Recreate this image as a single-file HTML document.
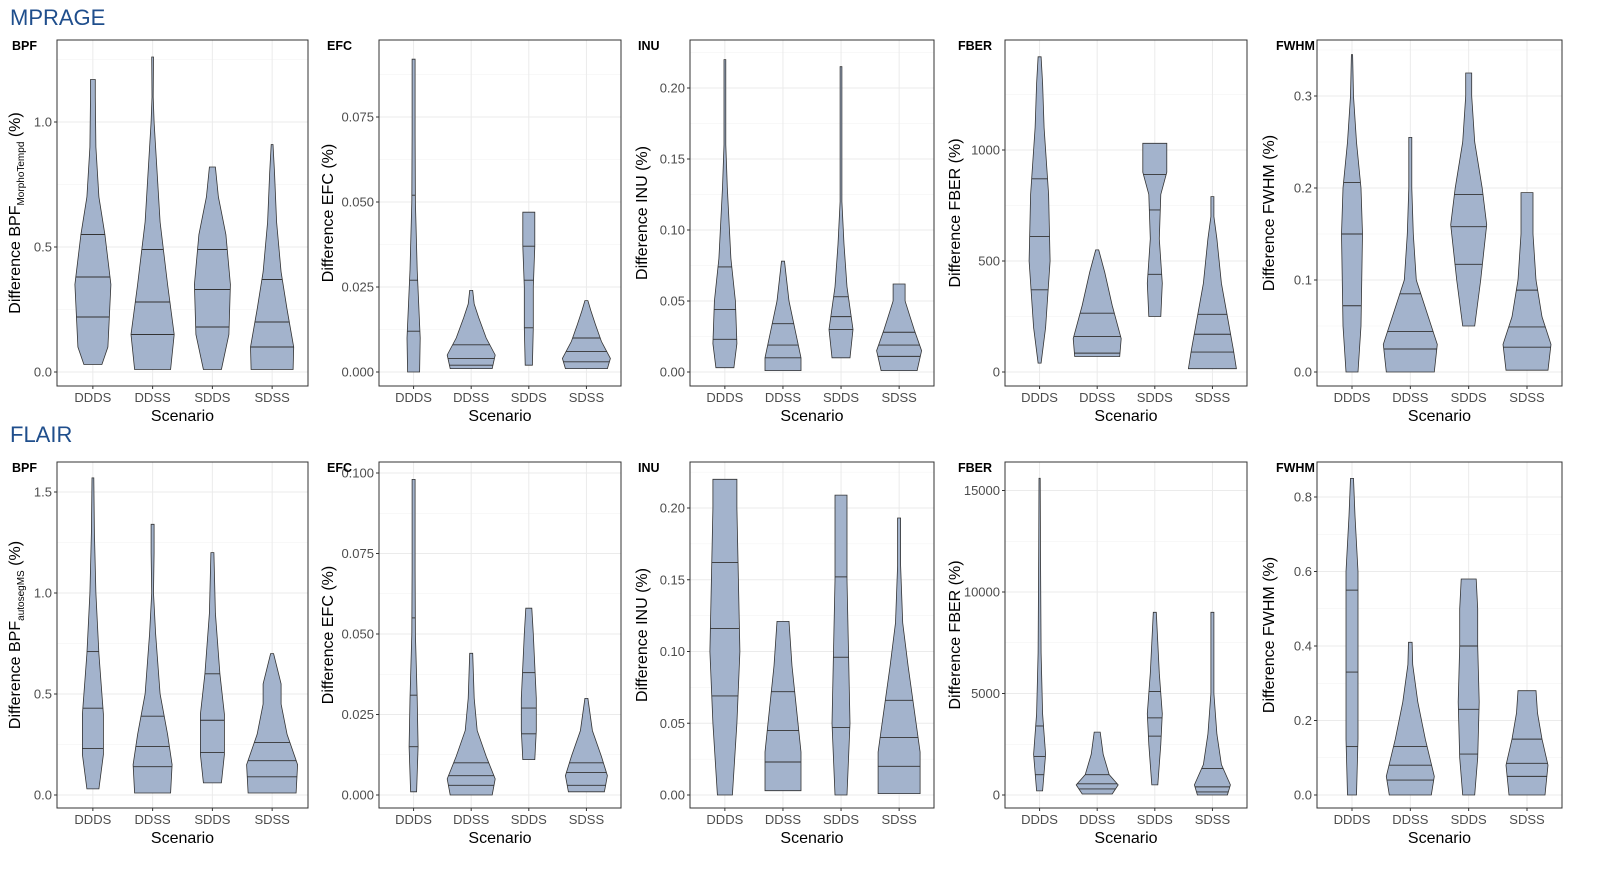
<!DOCTYPE html>
<html><head><meta charset="utf-8"><style>
body{margin:0;background:#fff;}
svg{display:block;font-family:"Liberation Sans",Arial,sans-serif;}
</style></head><body>
<svg id="chart" width="1600" height="869" viewBox="0 0 1600 869" xmlns="http://www.w3.org/2000/svg">
<rect width="1600" height="869" fill="#fff"/>
<text x="10" y="25" font-size="22" fill="#1f4e8c">MPRAGE</text>
<text x="10" y="442" font-size="22" fill="#1f4e8c">FLAIR</text>
</svg>
<script>
const categories = ["DDDS","DDSS","SDDS","SDSS"];
// violin shapes: [value, density] (density 1 = 30px half-width), per category
const mpBpfShapes = [
 [[0.03,0.3],[0.1,0.5],[0.35,0.6],[0.55,0.4],[0.7,0.2],[0.9,0.1],[1.1,0.08],[1.17,0.08]],
 [[0.01,0.6],[0.15,0.72],[0.35,0.5],[0.6,0.25],[0.9,0.1],[1.0,0.05],[1.1,0.02],[1.26,0.03]],
 [[0.01,0.3],[0.15,0.55],[0.35,0.6],[0.55,0.45],[0.7,0.2],[0.82,0.1]],
 [[0.01,0.7],[0.1,0.72],[0.25,0.5],[0.4,0.3],[0.6,0.15],[0.8,0.08],[0.91,0.03]]];
const mpBpfQuantiles = [[0.22,0.38,0.55],[0.15,0.28,0.49],[0.18,0.33,0.49],[0.1,0.2,0.37]];
const mpEfcShapes = [
 [[0,0.2],[0.01,0.22],[0.03,0.12],[0.05,0.06],[0.07,0.05],[0.092,0.05]],
 [[0.001,0.7],[0.005,0.8],[0.01,0.5],[0.016,0.25],[0.02,0.1],[0.024,0.05]],
 [[0.002,0.12],[0.013,0.15],[0.025,0.15],[0.037,0.2],[0.047,0.2]],
 [[0.001,0.7],[0.004,0.8],[0.009,0.5],[0.014,0.3],[0.018,0.15],[0.021,0.05]]];
const mpEfcQuantiles = [[0.012,0.027,0.052],[0.002,0.004,0.008],[0.013,0.027,0.037],[0.003,0.006,0.01]];
const mpInuShapes = [
 [[0.003,0.3],[0.02,0.4],[0.05,0.35],[0.08,0.2],[0.13,0.08],[0.16,0.03],[0.22,0.03]],
 [[0.001,0.6],[0.01,0.6],[0.03,0.4],[0.05,0.2],[0.078,0.05]],
 [[0.01,0.3],[0.03,0.4],[0.06,0.2],[0.09,0.1],[0.12,0.03],[0.17,0.03],[0.215,0.03]],
 [[0.001,0.6],[0.015,0.75],[0.03,0.5],[0.04,0.35],[0.05,0.2],[0.062,0.2]]];
const mpInuQuantiles = [[0.023,0.044,0.074],[0.01,0.019,0.034],[0.03,0.039,0.053],[0.011,0.019,0.028]];
const mpFberShapes = [
 [[40,0.05],[200,0.2],[500,0.35],[800,0.3],[1100,0.15],[1300,0.1],[1420,0.05]],
 [[70,0.75],[150,0.8],[300,0.5],[450,0.25],[550,0.05]],
 [[250,0.2],[400,0.25],[600,0.15],[800,0.2],[900,0.4],[1030,0.4]],
 [[15,0.8],[100,0.7],[250,0.5],[400,0.3],[600,0.15],[700,0.05],[790,0.05]]];
const mpFberQuantiles = [[370,610,870],[85,160,265],[440,730,890],[90,170,260]];
const mpFwhmShapes = [
 [[0,0.2],[0.05,0.3],[0.15,0.35],[0.2,0.3],[0.25,0.15],[0.3,0.05],[0.345,0.02]],
 [[0,0.8],[0.03,0.9],[0.07,0.5],[0.1,0.2],[0.15,0.1],[0.2,0.05],[0.255,0.05]],
 [[0.05,0.2],[0.1,0.4],[0.16,0.6],[0.2,0.45],[0.25,0.2],[0.3,0.1],[0.325,0.1]],
 [[0.002,0.7],[0.03,0.8],[0.06,0.5],[0.1,0.3],[0.15,0.2],[0.195,0.2]]];
const mpFwhmQuantiles = [[0.072,0.15,0.206],[0.025,0.044,0.085],[0.117,0.158,0.193],[0.027,0.049,0.089]];
const flBpfShapes = [
 [[0.03,0.2],[0.2,0.35],[0.4,0.35],[0.7,0.2],[1.0,0.1],[1.3,0.05],[1.57,0.03]],
 [[0.01,0.6],[0.15,0.65],[0.3,0.5],[0.5,0.25],[0.8,0.1],[1.0,0.03],[1.2,0.05],[1.34,0.05]],
 [[0.06,0.3],[0.2,0.4],[0.4,0.4],[0.6,0.25],[0.9,0.1],[1.2,0.05]],
 [[0.01,0.8],[0.15,0.85],[0.3,0.5],[0.45,0.3],[0.55,0.3],[0.7,0.05]]];
const flBpfQuantiles = [[0.23,0.43,0.71],[0.14,0.24,0.39],[0.21,0.37,0.6],[0.09,0.17,0.26]];
const flEfcShapes = [
 [[0.001,0.1],[0.015,0.15],[0.03,0.12],[0.05,0.06],[0.07,0.05],[0.098,0.05]],
 [[0,0.7],[0.005,0.8],[0.012,0.5],[0.02,0.2],[0.03,0.1],[0.044,0.05]],
 [[0.011,0.2],[0.02,0.25],[0.03,0.25],[0.04,0.2],[0.05,0.15],[0.058,0.1]],
 [[0.001,0.6],[0.006,0.7],[0.012,0.5],[0.02,0.2],[0.03,0.05]]];
const flEfcQuantiles = [[0.015,0.031,0.055],[0.003,0.006,0.01],[0.019,0.027,0.038],[0.003,0.007,0.01]];
const flInuShapes = [
 [[0,0.25],[0.05,0.4],[0.1,0.5],[0.15,0.45],[0.2,0.4],[0.22,0.4]],
 [[0.003,0.6],[0.03,0.6],[0.06,0.45],[0.09,0.3],[0.121,0.2]],
 [[0,0.2],[0.05,0.3],[0.1,0.25],[0.15,0.2],[0.209,0.2]],
 [[0.001,0.7],[0.03,0.7],[0.06,0.5],[0.09,0.3],[0.12,0.12],[0.16,0.05],[0.193,0.05]]];
const flInuQuantiles = [[0.069,0.116,0.162],[0.023,0.045,0.072],[0.047,0.096,0.152],[0.02,0.04,0.066]];
const flFberShapes = [
 [[200,0.1],[2000,0.2],[4000,0.1],[7000,0.05],[12000,0.03],[15600,0.02]],
 [[50,0.5],[500,0.7],[1000,0.4],[2000,0.2],[3100,0.1]],
 [[500,0.1],[2500,0.2],[4000,0.25],[6000,0.15],[7500,0.1],[9000,0.05]],
 [[0,0.5],[500,0.6],[1500,0.3],[3000,0.15],[5000,0.05],[9000,0.05]]];
const flFberQuantiles = [[1000,1900,3400],[300,550,1000],[2900,3800,5100],[150,400,1300]];
const flFwhmShapes = [
 [[0,0.15],[0.15,0.2],[0.4,0.2],[0.6,0.2],[0.75,0.1],[0.85,0.05]],
 [[0,0.7],[0.05,0.8],[0.15,0.5],[0.25,0.25],[0.35,0.08],[0.41,0.06]],
 [[0,0.2],[0.1,0.3],[0.25,0.35],[0.4,0.3],[0.5,0.3],[0.58,0.25]],
 [[0,0.6],[0.08,0.7],[0.15,0.5],[0.22,0.35],[0.28,0.3]]];
const flFwhmQuantiles = [[0.13,0.33,0.55],[0.04,0.08,0.13],[0.11,0.23,0.4],[0.05,0.085,0.15]];
// tick values & labels
const tBpfMp=[0,0.5,1.0], lBpfMp=["0.0","0.5","1.0"];
const tEfcMp=[0,0.025,0.05,0.075], lEfcMp=["0.000","0.025","0.050","0.075"];
const tInu=[0,0.05,0.1,0.15,0.2], lInu=["0.00","0.05","0.10","0.15","0.20"];
const tFberMp=[0,500,1000], lFberMp=["0","500","1000"];
const tFwhmMp=[0,0.1,0.2,0.3], lFwhmMp=["0.0","0.1","0.2","0.3"];
const tBpfFl=[0,0.5,1.0,1.5], lBpfFl=["0.0","0.5","1.0","1.5"];
const tEfcFl=[0,0.025,0.05,0.075,0.1], lEfcFl=["0.000","0.025","0.050","0.075","0.100"];
const tFberFl=[0,5000,10000,15000], lFberFl=["0","5000","10000","15000"];
const tFwhmFl=[0,0.2,0.4,0.6,0.8], lFwhmFl=["0.0","0.2","0.4","0.6","0.8"];

const NS="http://www.w3.org/2000/svg";
const svg=document.getElementById('chart');
function mk(tag,attrs,parent){const e=document.createElementNS(NS,tag);for(const k in attrs)e.setAttribute(k,attrs[k]);(parent||svg).appendChild(e);return e;}

const cols=[[57,308],[379,621],[690,934],[1005,1247],[1317,1562]];
const titleX=[20,333,647,960,1274];
const labelX=[12,327,638,958,1276];
const rows=[{y0:40,y1:386,zero:372},{y0:462,y1:808,zero:795}];
const panels=[
 {r:0,c:0,name:"BPF",sub:"MorphoTempd",shapes:mpBpfShapes,q:mpBpfQuantiles,scale:250,t:tBpfMp,l:lBpfMp},
 {r:0,c:1,name:"EFC",shapes:mpEfcShapes,q:mpEfcQuantiles,scale:3400,t:tEfcMp,l:lEfcMp},
 {r:0,c:2,name:"INU",shapes:mpInuShapes,q:mpInuQuantiles,scale:1420,t:tInu,l:lInu},
 {r:0,c:3,name:"FBER",shapes:mpFberShapes,q:mpFberQuantiles,scale:0.222,t:tFberMp,l:lFberMp},
 {r:0,c:4,name:"FWHM",shapes:mpFwhmShapes,q:mpFwhmQuantiles,scale:920,t:tFwhmMp,l:lFwhmMp},
 {r:1,c:0,name:"BPF",sub:"autosegMS",shapes:flBpfShapes,q:flBpfQuantiles,scale:202,t:tBpfFl,l:lBpfFl},
 {r:1,c:1,name:"EFC",shapes:flEfcShapes,q:flEfcQuantiles,scale:3220,t:tEfcFl,l:lEfcFl},
 {r:1,c:2,name:"INU",shapes:flInuShapes,q:flInuQuantiles,scale:1435,t:tInu,l:lInu},
 {r:1,c:3,name:"FBER",shapes:flFberShapes,q:flFberQuantiles,scale:0.0203,t:tFberFl,l:lFberFl},
 {r:1,c:4,name:"FWHM",shapes:flFwhmShapes,q:flFwhmQuantiles,scale:372.5,t:tFwhmFl,l:lFwhmFl}];

function widthAt(shape,v){
 if(v<=shape[0][0])return shape[0][1];
 for(let i=1;i<shape.length;i++){if(v<=shape[i][0]){const a=shape[i-1],b=shape[i];const f=(v-a[0])/(b[0]-a[0]||1);return a[1]+f*(b[1]-a[1]);}}
 return shape[shape.length-1][1];
}
panels.forEach(p=>{
 const row=rows[p.r],[x0,x1]=cols[p.c];
 const pre=(p.r?'flair-':'mprage-')+p.name.toLowerCase()+'-';
 const g=mk('g',{});
 
 
 const yS=v=>row.zero-v*p.scale;
 const xS=i=>x0+(i+0.6)/4.2*(x1-x0);
 // minor grid
 for(let i=0;i<p.t.length;i++){
  const step=p.t[1]-p.t[0];const mv=p.t[i]+step/2;const my=yS(mv);
  if(my>row.y0&&my<row.y1)mk('line',{x1:x0,x2:x1,y1:my,y2:my,stroke:'#f2f2f2','stroke-width':0.6},g);
  const mvb=p.t[0]-step/2;const myb=yS(mvb);
  if(i===0&&myb>row.y0&&myb<row.y1)mk('line',{x1:x0,x2:x1,y1:myb,y2:myb,stroke:'#f2f2f2','stroke-width':0.6},g);
 }
 p.t.forEach((v,i)=>{const y=yS(v);
  mk('line',{x1:x0,x2:x1,y1:y,y2:y,stroke:'#ebebeb','stroke-width':1},g);
  mk('line',{x1:x0-3,x2:x0,y1:y,y2:y,stroke:'#333','stroke-width':1},g);
  const t=mk('text',{x:x0-5,y:y+4.5,'font-size':13,fill:'#4d4d4d','text-anchor':'end'},g);t.textContent=p.l[i];
  
  
 });
 categories.forEach((c,i)=>{const x=xS(i);
  mk('line',{x1:x,x2:x,y1:row.y0,y2:row.y1,stroke:'#ebebeb','stroke-width':1},g);
  mk('line',{x1:x,x2:x,y1:row.y1,y2:row.y1+3,stroke:'#333','stroke-width':1},g);
  const t=mk('text',{x:x,y:row.y1+16,'font-size':13,fill:'#4d4d4d','text-anchor':'middle'},g);t.textContent=c;
  
  
 });
 // violins
 p.shapes.forEach((shape,i)=>{
  const cx=xS(i);const W=30;
  let right=shape.map(s=>[cx+s[1]*W,yS(s[0])]);
  let left=shape.slice().reverse().map(s=>[cx-s[1]*W,yS(s[0])]);
  const pts=right.concat(left).map(a=>a[0].toFixed(1)+','+a[1].toFixed(1)).join(' ');
  const v=mk('polygon',{points:pts,fill:'#a3b3cc',stroke:'#333','stroke-width':0.8},g);
  
  
  p.q[i].forEach(qv=>{const w=widthAt(shape,qv)*W;const y=yS(qv);
   const ql=mk('line',{x1:cx-w,x2:cx+w,y1:y,y2:y,stroke:'#333','stroke-width':0.9},g);
   
   
  });
 });
 mk('rect',{x:x0,y:row.y0,width:x1-x0,height:row.y1-row.y0,fill:'none',stroke:'#333','stroke-width':1},g);
 const lab=mk('text',{x:labelX[p.c],y:row.y0+10,'font-size':12.5,'font-weight':'bold',fill:'#000'},g);lab.textContent=p.name;
 
 
 const xt=mk('text',{x:(x0+x1)/2,y:row.y1+35,'font-size':16,fill:'#000','text-anchor':'middle'},g);xt.textContent='Scenario';
 
 
 const cy=(row.y0+row.y1)/2;
 const yt=mk('text',{x:0,y:0,'font-size':16,fill:'#000','text-anchor':'middle',transform:`translate(${titleX[p.c]},${cy}) rotate(-90)`},g);
 
 
 if(p.sub){
  const a=mk('tspan',{},yt);a.textContent='Difference BPF';
  const b=mk('tspan',{'font-size':10,dy:4},yt);b.textContent=p.sub;
  const c=mk('tspan',{dy:-4},yt);c.textContent=' (%)';
 } else yt.textContent='Difference '+p.name+' (%)';
});
</script>
</body></html>
